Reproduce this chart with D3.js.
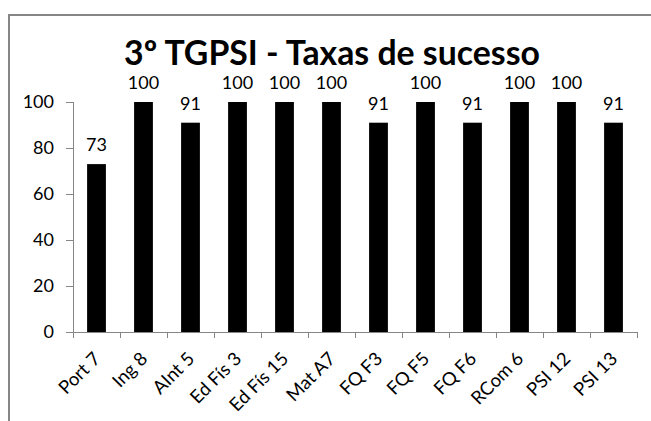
<!DOCTYPE html>
<html>
<head>
<meta charset="utf-8">
<script src="https://cdn.jsdelivr.net/npm/d3@7.9.0/dist/d3.min.js"></script>
<style>
  html, body { margin: 0; padding: 0; background: #fff; }
  svg { display: block; font-family: Lato, "Open Sans", sans-serif; }
</style>
</head>
<body>
<svg width="651" height="421"></svg>
<script>
const categories = ['Port 7', 'Ing 8', 'AInt 5', 'Ed Fís 3', 'Ed Fís 15', 'Mat A7',
  'FQ F3', 'FQ F5', 'FQ F6', 'RCom 6', 'PSI 12', 'PSI 13'];
const rates = [73, 100, 91, 100, 100, 100, 91, 100, 91, 100, 100, 91];
const yTicks = [0, 20, 40, 60, 80, 100];
const title = '3º TGPSI - Taxas de sucesso';

const svg = d3.select('svg');
const axisColor = '#868686';

// chart frame (runs off the right and bottom edge)
svg.append('rect')
  .attr('x', 9).attr('y', 15)
  .attr('width', 700).attr('height', 500)
  .attr('fill', 'none')
  .attr('stroke', axisColor)
  .attr('stroke-width', 2);

const x = d3.scaleBand()
  .domain(categories)
  .range([73, 637])
  .paddingInner(0.6)
  .paddingOuter(0.3);

const y = d3.scaleLinear().domain([0, 100]).range([332, 102]);

// y axis
const yAxis = svg.append('g');
yAxis.append('line')
  .attr('x1', 73.5).attr('x2', 73.5)
  .attr('y1', y(0)).attr('y2', y(100))
  .attr('stroke', axisColor);
yTicks.forEach(t => {
  yAxis.append('line')
    .attr('x1', 66).attr('x2', 73)
    .attr('y1', Math.round(y(t)) + 0.5).attr('y2', Math.round(y(t)) + 0.5)
    .attr('stroke', axisColor);
  yAxis.append('text')
    .attr('x', 54).attr('y', y(t))
    .attr('dy', '0.35em')
    .attr('text-anchor', 'end')
    .attr('font-size', 18)
    .attr('fill', '#000')
    .text(t);
});

// x axis
const xAxis = svg.append('g');
xAxis.append('line')
  .attr('x1', 73).attr('x2', 637)
  .attr('y1', y(0) + 0.5).attr('y2', y(0) + 0.5)
  .attr('stroke', axisColor);
const step = x.step();
d3.range(categories.length + 1).forEach(i => {
  const xx = Math.round(73 + i * step) + 0.5;
  xAxis.append('line')
    .attr('x1', xx).attr('x2', xx)
    .attr('y1', y(0)).attr('y2', y(0) + 6)
    .attr('stroke', axisColor);
});

categories.forEach(c => {
  const cx = x(c) + x.bandwidth() / 2;
  xAxis.append('text')
    .attr('transform', `translate(${cx + 5},${y(0) + 28}) rotate(-45)`)
    .attr('text-anchor', 'end')
    .attr('font-size', 18.5)
    .attr('fill', '#000')
    .text(c);
});

// bars
svg.selectAll('rect.bar')
  .data(rates)
  .join('rect')
  .attr('class', 'bar')
  .attr('x', (d, i) => x(categories[i]))
  .attr('width', x.bandwidth())
  .attr('y', d => y(d))
  .attr('height', d => y(0) - y(d))
  .attr('fill', '#000');

// value labels
svg.selectAll('text.val')
  .data(rates)
  .join('text')
  .attr('class', 'val')
  .attr('x', (d, i) => x(categories[i]) + x.bandwidth() / 2)
  .attr('y', d => y(d) - 13)
  .attr('text-anchor', 'middle')
  .attr('font-size', 18)
  .attr('fill', '#000')
  .text(d => d);

// title, fitted to the width it has in the picture
const t = svg.append('text')
  .attr('x', 332).attr('y', 65)
  .attr('text-anchor', 'middle')
  .attr('font-weight', 'bold')
  .attr('font-size', 32)
  .attr('fill', '#000')
  .text(title);
const w = t.node().getComputedTextLength();
t.attr('font-size', 32 * 416 / w);
</script>
</body>
</html>
